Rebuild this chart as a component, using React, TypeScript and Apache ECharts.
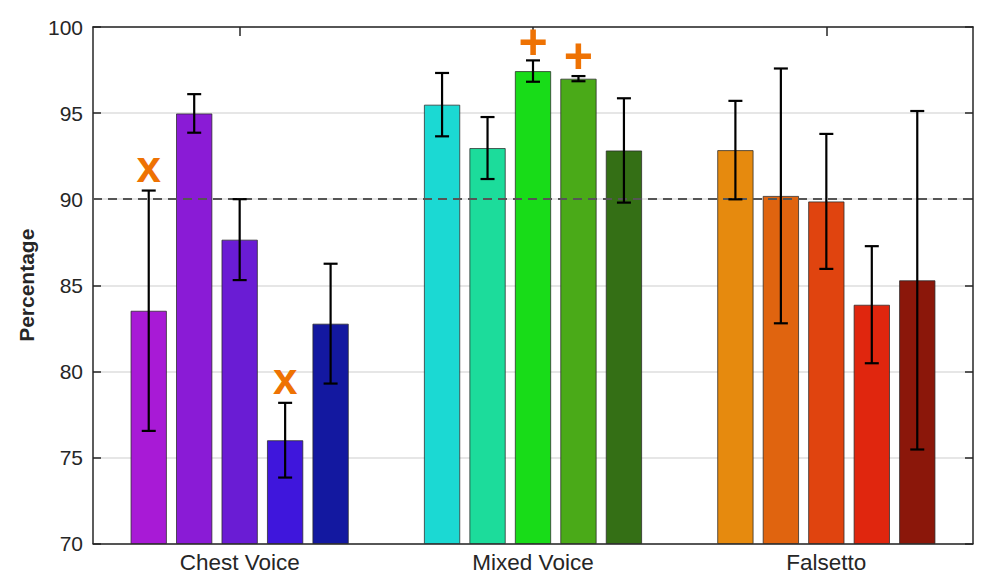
import React, { useEffect, useRef } from "react";
import * as echarts from "echarts";

const categories = ["Chest Voice", "Mixed Voice", "Falsetto"];

const chestMeans = [83.52, 94.98, 87.65, 76.0, 82.77];
const chestErrors = [6.98, 1.12, 2.35, 2.17, 3.48];
const mixedMeans = [95.49, 92.97, 97.44, 97.0, 92.83];
const mixedErrors = [1.84, 1.8, 0.62, 0.15, 3.03];
const falsettoMeans = [92.85, 90.19, 89.87, 83.87, 85.29];
const falsettoErrors = [2.86, 7.4, 3.92, 3.4, 9.83];

const chestColors = ["#A81AD6", "#8A1BD6", "#6A1CD4", "#3F16DC", "#1318A0"];
const mixedColors = ["#1BD9D3", "#1CDC9B", "#18DC18", "#4AAA18", "#346F15"];
const falsettoColors = ["#E68A0E", "#E0640F", "#E0440F", "#E0260E", "#8B170A"];

const yTicks = [70, 75, 80, 85, 90, 95, 100];
const thresholdValue = 90;

const markerGroups = [0, 0, 1, 1];
const markerBars = [0, 3, 2, 3];
const markerValues = [91.67, 79.35, 99.15, 98.33];
const markerSymbols = ["x", "x", "+", "+"];

const groupMeans = [chestMeans, mixedMeans, falsettoMeans];
const groupErrors = [chestErrors, mixedErrors, falsettoErrors];
const groupColors = [chestColors, mixedColors, falsettoColors];

const BAR_WIDTH_FRAC = 0.124;
const BAR_GAP_FRAC = 0.25;
const BAR_STEP = BAR_WIDTH_FRAC * (1 + BAR_GAP_FRAC);

const FONT = "'Liberation Sans', Arial, Helvetica, sans-serif";
const AXIS_COLOR = "#262626";

export default function App() {
  const ref = useRef<HTMLDivElement>(null);

  useEffect(() => {
    document.body.style.margin = "0";
    if (!ref.current) return;
    const chart = echarts.init(ref.current, undefined, { renderer: "svg" });

    const barSeries = [0, 1, 2, 3, 4].map((b) => ({
      type: "bar",
      name: "bar" + b,
      xAxisIndex: 0,
      yAxisIndex: 0,
      barWidth: BAR_WIDTH_FRAC * 100 + "%",
      barGap: BAR_GAP_FRAC * 100 + "%",
      z: 2,
      data: groupMeans.map((means, g) => ({
        value: means[b],
        itemStyle: {
          color: groupColors[g][b],
          borderColor: "rgba(40,40,40,0.75)",
          borderWidth: 1,
        },
      })),
    }));

    const errorData: number[][] = [];
    groupMeans.forEach((means, g) => {
      means.forEach((m, b) => {
        const e = groupErrors[g][b];
        errorData.push([g, b, m - e, m + e]);
      });
    });

    const markerData = markerValues.map((v, i) => [markerGroups[i], markerBars[i], v, i]);

    const option = {
      animation: false,
      grid: {
        left: 93,
        right: 20,
        top: 27,
        bottom: 41.5,
        containLabel: false,
        outerBoundsMode: "none",
      },
      xAxis: [
        {
          type: "category",
          data: categories,
          position: "bottom",
          axisLine: { show: true, lineStyle: { color: AXIS_COLOR, width: 1.5 } },
          axisTick: { show: true, inside: true, alignWithLabel: true, length: 9, lineStyle: { color: AXIS_COLOR, width: 1.5 } },
          axisLabel: { color: AXIS_COLOR, fontFamily: FONT, fontSize: 22.5, margin: 7 },
          splitLine: { show: false },
        },
        {
          type: "category",
          data: categories,
          position: "top",
          axisLine: { show: true, lineStyle: { color: AXIS_COLOR, width: 1.5 } },
          axisTick: { show: true, inside: true, alignWithLabel: true, length: 9, lineStyle: { color: AXIS_COLOR, width: 1.5 } },
          axisLabel: { show: false },
          splitLine: { show: false },
        },
      ],
      yAxis: [
        {
          type: "value",
          min: yTicks[0],
          max: yTicks[yTicks.length - 1],
          interval: yTicks[1] - yTicks[0],
          position: "left",
          name: "Percentage",
          nameLocation: "middle",
          nameGap: 50,
          nameRotate: 90,
          nameTextStyle: { color: AXIS_COLOR, fontFamily: FONT, fontSize: 21, fontWeight: "bold" },
          axisLine: { show: true, lineStyle: { color: AXIS_COLOR, width: 1.5 } },
          axisTick: { show: true, inside: true, length: 8, lineStyle: { color: AXIS_COLOR, width: 1.5 } },
          axisLabel: { color: AXIS_COLOR, fontFamily: FONT, fontSize: 21, margin: 10 },
          splitLine: { show: true, lineStyle: { color: "#dedede", width: 1.5 } },
        },
        {
          type: "value",
          min: yTicks[0],
          max: yTicks[yTicks.length - 1],
          interval: yTicks[1] - yTicks[0],
          position: "right",
          axisLine: { show: true, lineStyle: { color: AXIS_COLOR, width: 1.5 } },
          axisTick: { show: true, inside: true, length: 8, lineStyle: { color: AXIS_COLOR, width: 1.5 } },
          axisLabel: { show: false },
          splitLine: { show: false },
        },
      ],
      series: [
        ...barSeries,
        {
          type: "custom",
          name: "errors",
          xAxisIndex: 0,
          yAxisIndex: 0,
          z: 5,
          encode: { x: 0, y: [2, 3] },
          data: errorData,
          renderItem: (params: any, api: any) => {
            const g = api.value(0);
            const b = api.value(1);
            const lo = api.value(2);
            const hi = api.value(3);
            const band = api.size([1, 0])[0];
            const off = (b - 2) * band * BAR_STEP;
            const pLo = api.coord([g, lo]);
            const pHi = api.coord([g, hi]);
            const x = pLo[0] + off;
            const cap = 7;
            const st = { stroke: "#000", lineWidth: 2.2 };
            return {
              type: "group",
              children: [
                { type: "line", shape: { x1: x, y1: pLo[1], x2: x, y2: pHi[1] }, style: st },
                { type: "line", shape: { x1: x - cap, y1: pLo[1], x2: x + cap, y2: pLo[1] }, style: st },
                { type: "line", shape: { x1: x - cap, y1: pHi[1], x2: x + cap, y2: pHi[1] }, style: st },
              ],
            };
          },
          markLine: {
            silent: true,
            symbol: "none",
            label: { show: false },
            lineStyle: { type: [9, 6], color: "#555555", width: 2 },
            data: [{ yAxis: thresholdValue }],
          },
        },
        {
          type: "custom",
          name: "markers",
          xAxisIndex: 0,
          yAxisIndex: 0,
          z: 6,
          encode: { x: 0, y: 2 },
          data: markerData,
          renderItem: (params: any, api: any) => {
            const g = api.value(0);
            const b = api.value(1);
            const v = api.value(2);
            const idx = api.value(3);
            const band = api.size([1, 0])[0];
            const off = (b - 2) * band * BAR_STEP;
            const p = api.coord([g, v]);
            const sym = markerSymbols[idx];
            const isPlus = sym === "+";
            return {
              type: "text",
              x: p[0] + off,
              y: p[1] + (isPlus ? 0 : -4),
              style: {
                text: sym,
                fill: "#EE7203",
                font: "bold " + (isPlus ? 50 : 44) + "px " + FONT,
                align: "center",
                verticalAlign: "middle",
              },
            };
          },
        },
      ],
    };

    chart.setOption(option as any);
    return () => chart.dispose();
  }, []);

  return <div ref={ref} style={{ width: 993, height: 585 }} />;
}
